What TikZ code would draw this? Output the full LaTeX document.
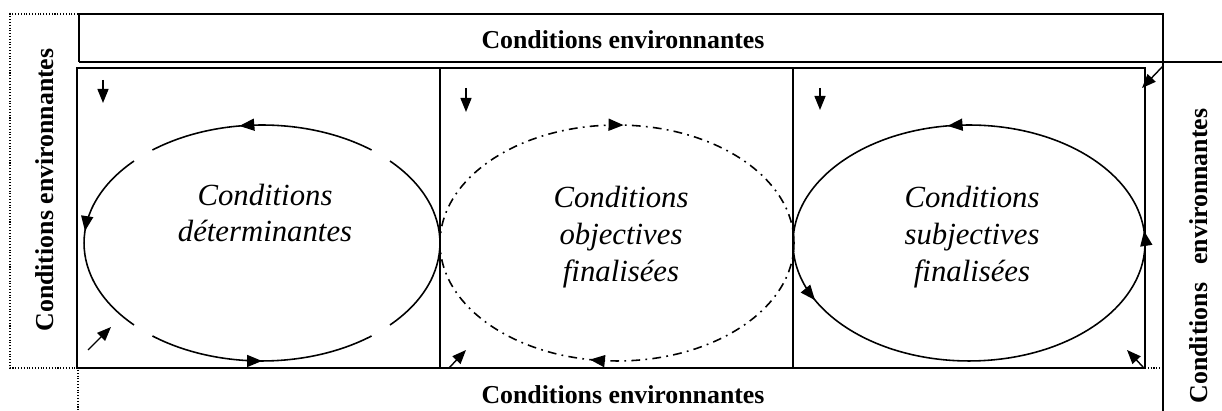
\documentclass[tikz,border=0pt]{standalone}
\usepackage{fontspec}
\setmainfont{Liberation Serif}
\usetikzlibrary{arrows.meta,decorations.markings}

\begin{document}
\begin{tikzpicture}[x=0.02cm,y=0.02cm]
          \tikzstyle{every node}=[inner sep=0pt]
          \tikzstyle{frame}=[line width=0.6pt]
          \tikzstyle{env}=[font=\bfseries\fontsize{14.7}{17}\selectfont]
          \tikzstyle{cond}=[font=\itshape\fontsize{17.5}{21}\selectfont,align=center]
          \tikzstyle{loop}=[line width=0.9pt]
          \tikzstyle{dashdot}=[dash pattern=on 5pt off 3pt on 1pt off 3pt]
          \tikzstyle{tip}=[line width=0.8pt,-{Triangle[length=2.8mm,width=2.2mm]}]
          \useasboundingbox (0,0) rectangle (1222,411);
          % frames
          \draw[frame,densely dotted] (78,397) -- (10,397) -- (10,43) -- (78,43) -- (78,0);
          \draw[frame] (79,349) -- (79,397) -- (1163,397) -- (1163,0);
          \draw[frame] (79,349) -- (1222,349);
          \draw[frame] (77,43) rectangle (1145,343);
          \draw[frame,densely dotted] (1145,43) -- (1163,43);
          \draw[frame] (440,43) -- (440,343);
          \draw[frame] (793,43) -- (793,343);
          \node[env] (envTop) at (623,371) {Conditions environnantes};
          \node[env] (envBottom) at (623,16) {Conditions environnantes};
          \node[env,rotate=90] (envLeft) at (45,221) {Conditions environnantes};
          \node[env,rotate=90] (envRight) at (1199,155) {Conditions\hspace{0.7em}environnantes};
          % loops
          \coordinate (cDet) at (262,168);
          \coordinate (cObj) at (617,168);
          \coordinate (cSubj) at (969,168);
          \draw[loop,decoration={markings,mark=at position 0.6 with {\arrow{Triangle[length=3mm,width=2.4mm]}}},postaction={decorate}]
              ([shift={(52:3.56cm and 2.36cm)}]cDet) arc[start angle=52,end angle=128,x radius=3.56cm,y radius=2.36cm];
          \draw[loop,decoration={markings,mark=at position 0.44 with {\arrow{Triangle[length=3mm,width=2.4mm]}}},postaction={decorate}]
              ([shift={(136:3.56cm and 2.36cm)}]cDet) arc[start angle=136,end angle=224,x radius=3.56cm,y radius=2.36cm];
          \draw[loop,decoration={markings,mark=at position 0.5 with {\arrow{Triangle[length=3mm,width=2.4mm]}}},postaction={decorate}]
              ([shift={(232:3.56cm and 2.36cm)}]cDet) arc[start angle=232,end angle=308,x radius=3.56cm,y radius=2.36cm];
          \draw[loop]
              ([shift={(316:3.56cm and 2.36cm)}]cDet) arc[start angle=316,end angle=404,x radius=3.56cm,y radius=2.36cm];
          \draw[loop,dashdot,decoration={markings,
                mark=at position 0.279 with {\arrow[solid]{Triangle[length=3mm,width=2.4mm]}},
                mark=at position 0.757 with {\arrow[solid]{Triangle[length=3mm,width=2.4mm]}}},postaction={decorate}]
              ([shift={(0:3.54cm and 2.36cm)}]cObj) arc[start angle=0,end angle=-360,x radius=3.54cm,y radius=2.36cm];
          \draw[loop,decoration={markings,
                mark=at position 0.013 with {\arrow{Triangle[length=3mm,width=2.4mm]}},
                mark=at position 0.273 with {\arrow{Triangle[length=3mm,width=2.4mm]}},
                mark=at position 0.567 with {\arrow{Triangle[length=3mm,width=2.4mm]}}},postaction={decorate}]
              ([shift={(0:3.52cm and 2.36cm)}]cSubj) arc[start angle=0,end angle=360,x radius=3.52cm,y radius=2.36cm];
          \node[cond] (condDet) at (265,198) {Conditions\\déterminantes};
          \node[cond] (condObj) at (621,174) {Conditions\\objectives\\finalisées};
          \node[cond] (condSubj) at (972,174) {Conditions\\subjectives\\finalisées};
          % small arrows
          \coordinate (inDetA) at (103,331);  \coordinate (inDetB) at (103,308);
          \coordinate (inObjA) at (466,323);  \coordinate (inObjB) at (466,299);
          \coordinate (inSubjA) at (820,323); \coordinate (inSubjB) at (820,301);
          \coordinate (upDetA) at (88,61);    \coordinate (upDetB) at (111,84);
          \coordinate (upObjA) at (449,43);   \coordinate (upObjB) at (466,61);
          \coordinate (upSubjA) at (1143,44); \coordinate (upSubjB) at (1127,61);
          \coordinate (cornerA) at (1163,345); \coordinate (cornerB) at (1142,323);
          \draw[tip] (inDetA) -- (inDetB);
          \draw[tip] (inObjA) -- (inObjB);
          \draw[tip] (inSubjA) -- (inSubjB);
          \draw[tip] (upDetA) -- (upDetB);
          \draw[tip] (upObjA) -- (upObjB);
          \draw[tip] (upSubjA) -- (upSubjB);
          \draw[tip] (cornerA) -- (cornerB);
      \end{tikzpicture}
\end{document}
